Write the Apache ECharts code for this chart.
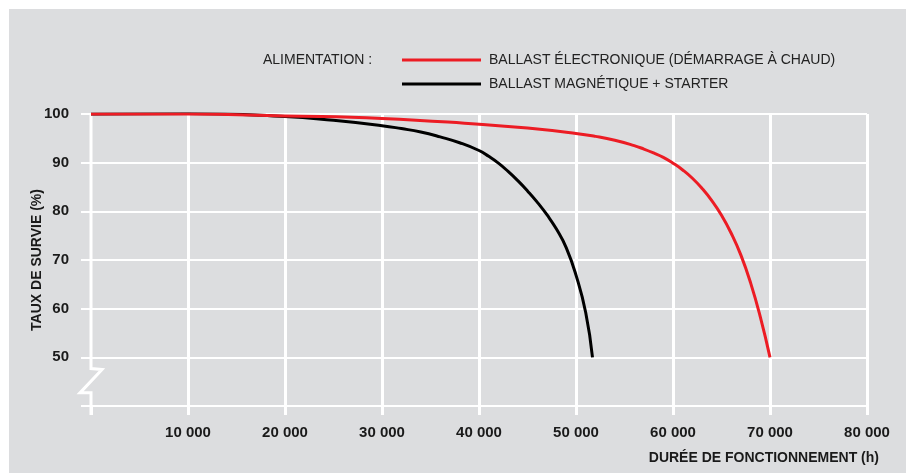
<!DOCTYPE html>
<html>
<head>
<meta charset="utf-8">
<script src="https://cdn.jsdelivr.net/npm/echarts@6/dist/echarts.min.js"></script>
<style>
	html, body { margin: 0; padding: 0; background: #ffffff; }
	#chart { position: absolute; left: 9px; top: 9px; width: 897px; height: 464px; background: #dcdddf; }
</style>
</head>
<body>
<div id="chart"></div>
<script>
// series names (legend)
const seriesElec = 'BALLAST ÉLECTRONIQUE (DÉMARRAGE À CHAUD)';
const seriesMagn = 'BALLAST MAGNÉTIQUE + STARTER';

// hours / survival %
const elecHours = [0, 10000, 20000, 30000, 40000, 45000, 50000, 52000, 54000, 56000, 57000, 58000, 59000, 60000, 61000, 62000, 63000, 64000, 65000, 66000, 67000, 68000, 69000, 70000];
const elecSurvival = [100, 100, 99.6, 99.1, 97.9, 97.1, 96.0, 95.4, 94.6, 93.5, 92.8, 92.0, 91.1, 89.9, 88.5, 86.8, 84.7, 82.2, 79.2, 75.5, 71.0, 65.3, 58.3, 50];

const magnHours = [0, 10000, 20000, 25000, 30000, 32000, 34000, 36000, 38000, 40000, 41000, 42000, 43000, 44000, 45000, 46000, 47000, 48000, 49000, 50000, 51000, 51700];
const magnSurvival = [100, 100.1, 99.5, 98.7, 97.6, 97.0, 96.3, 95.3, 94.1, 92.5, 91.3, 89.9, 88.2, 86.3, 84.2, 81.9, 79.3, 76.3, 72.5, 66.9, 59.2, 50];

const xTicks = [0, 10000, 20000, 30000, 40000, 50000, 60000, 70000, 80000];
const yTicks = [40, 50, 60, 70, 80, 90, 100];

const toPairs = (xs, ys) => xs.map((x, i) => [x, ys[i]]);
const fmtThousands = v => String(v).replace(/\B(?=(\d{3})+(?!\d))/g, ' ');

const font = '"Liberation Sans", Arial, Helvetica, sans-serif';
const white = '#ffffff';

const chart = echarts.init(document.getElementById('chart'), null, { renderer: 'canvas' });

const option = {
	animation: false,
	backgroundColor: 'transparent',
	grid: { left: 82, right: 39, top: 105, bottom: 67 },
	legend: {
		orient: 'vertical',
		left: 388,
		top: 39,
		itemWidth: 79,
		itemHeight: 3,
		itemGap: 10,
		icon: 'rect',
		data: [seriesElec, seriesMagn],
		textStyle: { fontFamily: font, fontSize: 14, color: '#222222', padding: [0, 0, 0, 3] }
	},
	xAxis: {
		type: 'value',
		min: xTicks[0],
		max: xTicks[xTicks.length - 1],
		interval: 10000,
		name: 'DURÉE DE FONCTIONNEMENT (h)',
		nameLocation: 'end',
		nameGap: 12,
		nameMoveOverlap: false,
		nameTextStyle: {
			fontFamily: font, fontSize: 14, fontWeight: 'bold', color: '#1a1a1a',
			align: 'right', verticalAlign: 'top', padding: [45, 0, 0, 0]
		},
		axisLine: { show: true, lineStyle: { color: white, width: 2 } },
		axisTick: { show: true, length: 9, lineStyle: { color: white, width: 3 } },
		axisLabel: {
			margin: 19,
			fontFamily: font, fontSize: 15, fontWeight: 'bold', color: '#1a1a1a',
			formatter: v => v === 0 ? '' : fmtThousands(v)
		},
		splitLine: { show: true, showMinLine: false, lineStyle: { color: white, width: 3 } }
	},
	yAxis: {
		type: 'value',
		min: yTicks[0],
		max: yTicks[yTicks.length - 1],
		interval: 10,
		name: 'TAUX DE SURVIE (%)',
		nameLocation: 'middle',
		nameGap: 47,
		nameRotate: 90,
		nameMoveOverlap: false,
		nameTextStyle: { fontFamily: font, fontSize: 14, fontWeight: 'bold', color: '#1a1a1a' },
		axisLine: { show: false },
		axisTick: { show: true, length: 10, lineStyle: { color: white, width: 2 } },
		axisLabel: {
			margin: 22,
			fontFamily: font, fontSize: 15, fontWeight: 'bold', color: '#1a1a1a',
			formatter: v => v === 40 ? '' : String(v)
		},
		splitLine: { show: true, lineStyle: { color: white, width: 2 } }
	},
	series: [
		{
			name: seriesMagn,
			type: 'line',
			data: toPairs(magnHours, magnSurvival),
			showSymbol: false,
			smooth: 0.5,
			color: '#000000',
			lineStyle: { color: '#000000', width: 3 },
			z: 2
		},
		{
			name: seriesElec,
			type: 'line',
			data: toPairs(elecHours, elecSurvival),
			showSymbol: false,
			smooth: 0.5,
			color: '#ec1c24',
			lineStyle: { color: '#ec1c24', width: 3 },
			z: 3
		}
	]
};

chart.setOption(option);

// y axis line with break mark, placed from the axis scale
const pTop = chart.convertToPixel({ gridIndex: 0 }, [0, 100]);
const pBrk1 = chart.convertToPixel({ gridIndex: 0 }, [0, 47.7]);
const pBrk2 = chart.convertToPixel({ gridIndex: 0 }, [0, 42.7]);
const pBot = chart.convertToPixel({ gridIndex: 0 }, [0, 40]);

chart.setOption({
	graphic: [
		{
			type: 'polyline',
			silent: true,
			z: 1,
			shape: {
				points: [
					[pTop[0], pTop[1]],
					[pBrk1[0], pBrk1[1]],
					[pBrk1[0] + 11, pBrk1[1] + 1],
					[pBrk2[0] - 11, pBrk2[1]],
					[pBrk2[0], pBrk2[1]],
					[pBot[0], pBot[1] + 9]
				]
			},
			style: { stroke: white, lineWidth: 3, fill: null }
		},
		{
			type: 'text',
			silent: true,
			left: 254,
			top: 44,
			style: { text: 'ALIMENTATION :', font: '14px ' + font, fill: '#222222' }
		}
	]
});
</script>
</body>
</html>
